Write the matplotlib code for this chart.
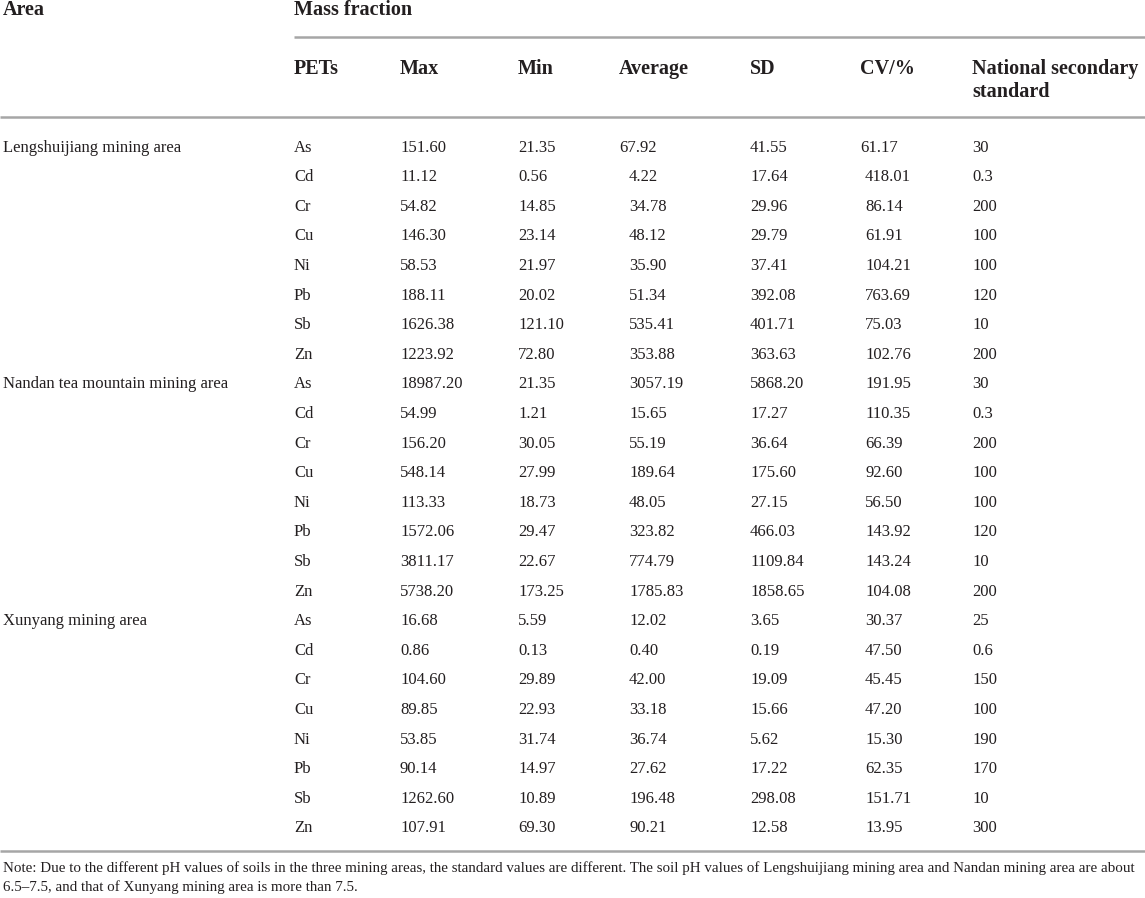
import matplotlib
matplotlib.use("Agg")
import matplotlib.pyplot as plt

# ---------------- data ----------------
areas = ["Lengshuijiang mining area", "Nandan tea mountain mining area", "Xunyang mining area"]
pets = ["As", "Cd", "Cr", "Cu", "Ni", "Pb", "Sb", "Zn"]

max_vals = [
    ["151.60", "11.12", "54.82", "146.30", "58.53", "188.11", "1626.38", "1223.92"],
    ["18987.20", "54.99", "156.20", "548.14", "113.33", "1572.06", "3811.17", "5738.20"],
    ["16.68", "0.86", "104.60", "89.85", "53.85", "90.14", "1262.60", "107.91"],
]
min_vals = [
    ["21.35", "0.56", "14.85", "23.14", "21.97", "20.02", "121.10", "72.80"],
    ["21.35", "1.21", "30.05", "27.99", "18.73", "29.47", "22.67", "173.25"],
    ["5.59", "0.13", "29.89", "22.93", "31.74", "14.97", "10.89", "69.30"],
]
avg_vals = [
    ["67.92", "4.22", "34.78", "48.12", "35.90", "51.34", "535.41", "353.88"],
    ["3057.19", "15.65", "55.19", "189.64", "48.05", "323.82", "774.79", "1785.83"],
    ["12.02", "0.40", "42.00", "33.18", "36.74", "27.62", "196.48", "90.21"],
]
sd_vals = [
    ["41.55", "17.64", "29.96", "29.79", "37.41", "392.08", "401.71", "363.63"],
    ["5868.20", "17.27", "36.64", "175.60", "27.15", "466.03", "1109.84", "1858.65"],
    ["3.65", "0.19", "19.09", "15.66", "5.62", "17.22", "298.08", "12.58"],
]
cv_vals = [
    ["61.17", "418.01", "86.14", "61.91", "104.21", "763.69", "75.03", "102.76"],
    ["191.95", "110.35", "66.39", "92.60", "56.50", "143.92", "143.24", "104.08"],
    ["30.37", "47.50", "45.45", "47.20", "15.30", "62.35", "151.71", "13.95"],
]
std_vals = [
    ["30", "0.3", "200", "100", "100", "120", "10", "200"],
    ["30", "0.3", "200", "100", "100", "120", "10", "200"],
    ["25", "0.6", "150", "100", "190", "170", "10", "300"],
]
col_headers = ["PETs", "Max", "Min", "Average", "SD", "CV/%", "National secondary\nstandard"]
top_headers = ["Area", "Mass fraction"]
note_lines = [
    "Note: Due to the different pH values of soils in the three mining areas, the standard values are different. "
    "The soil pH values of Lengshuijiang mining area and Nandan mining area are about",
    "6.5\u20137.5, and that of Xunyang mining area is more than 7.5.",
]

# ---------------- layout ----------------
W, H = 1145, 898
FONT = ["Liberation Serif", "DejaVu Serif"]
TXT = "#231f20"
RULE = "#a6a6a6"

fig = plt.figure(figsize=(W / 100, H / 100), dpi=100)
ax = fig.add_axes([0, 0, 1, 1])
ax.set_xlim(0, W)
ax.set_ylim(H, 0)
ax.axis("off")

col_x = [294, 400, 518, 619, 750, 860, 972]        # header x
data_x = [294, 400, 518, 629, 750, 865, 972]       # data x (rows after the first)
area_x = 3

# top header row
ax.text(area_x, 15, top_headers[0], fontsize=14.5, fontweight="bold", family=FONT, color=TXT, va="baseline")
ax.text(col_x[0], 15, top_headers[1], fontsize=14.5, fontweight="bold", family=FONT, color=TXT, va="baseline")
ax.hlines(37, col_x[0], W, color=RULE, lw=1.8)

for x, h in zip(col_x, col_headers):
    for k, line in enumerate(h.split("\n")):
        ax.text(x, 74 + k * 23, line, fontsize=14.5, fontweight="bold", family=FONT, color=TXT,
                va="baseline")
ax.hlines(117, 0, W, color=RULE, lw=1.8)

row0 = 145.5
dy = 29.6
cols = [max_vals, min_vals, avg_vals, sd_vals, cv_vals, std_vals]
for g, area in enumerate(areas):
    for i, p in enumerate(pets):
        r = g * len(pets) + i
        yb = row0 + r * dy + 6
        xs = col_x if r == 0 else data_x
        if i == 0:
            ax.text(area_x, yb, area, fontsize=12, family=FONT, color=TXT, va="baseline")
        ax.text(xs[0], yb, p, fontsize=12, family=FONT, color=TXT, va="baseline")
        for c, vals in enumerate(cols):
            ax.text(xs[c + 1], yb, vals[g][i], fontsize=12, family=FONT, color=TXT, va="baseline")

ax.hlines(851, 0, W, color=RULE, lw=1.8)
for k, line in enumerate(note_lines):
    ax.text(area_x, 872 + k * 19, line, fontsize=10.8, family=FONT, color=TXT, va="baseline")

fig.savefig("out.png", dpi=100)
